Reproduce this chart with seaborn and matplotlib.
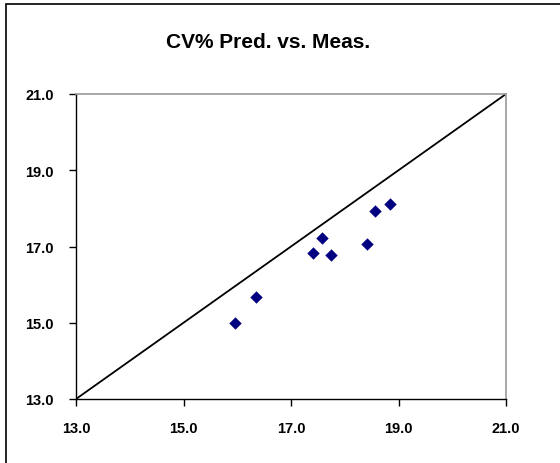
import matplotlib
matplotlib.use("Agg")
import matplotlib.pyplot as plt
import seaborn as sns
import pandas as pd
from matplotlib.patches import Rectangle

measured = [15.96, 16.35, 17.41, 17.58, 17.75, 18.42, 18.56, 18.84]
predicted = [15.00, 15.67, 16.82, 17.21, 16.77, 17.07, 17.93, 18.11]
ticks = [13.0, 15.0, 17.0, 19.0, 21.0]
tick_labels = ["13.0", "15.0", "17.0", "19.0", "21.0"]
identity = [13.0, 21.0]

sns.set_style("white")
plt.rcParams['font.family'] = ['Liberation Sans', 'DejaVu Sans']
plt.rcParams['text.color'] = 'black'
plt.rcParams['xtick.color'] = 'black'
plt.rcParams['ytick.color'] = 'black'

df = pd.DataFrame({"Meas": measured, "Pred": predicted})

fig = plt.figure(figsize=(5.6, 4.64), dpi=100)
ax = fig.add_axes([76/560, 64/464, (506-76)/560, (400-95)/464])

ax.plot(identity, identity, color="black", lw=1.3, zorder=2)
sns.scatterplot(data=df, x="Meas", y="Pred", marker="D", s=40, color="#000080",
                edgecolor="#000080", linewidth=0, ax=ax, zorder=3)

ax.set_xlim(13, 21)
ax.set_ylim(13, 21)
ax.set_xticks(ticks)
ax.set_xticklabels(tick_labels)
ax.set_yticks(ticks)
ax.set_yticklabels(tick_labels)
ax.set_xlabel("")
ax.set_ylabel("")
ax.tick_params(axis="both", direction="out", length=5, width=1, color="black",
               labelcolor="black", labelsize=10.5, pad=11, bottom=True, left=True)
for lab in ax.get_xticklabels() + ax.get_yticklabels():
    lab.set_fontweight("bold")

for side in ["left", "bottom"]:
    ax.spines[side].set_color("black")
    ax.spines[side].set_linewidth(1.0)
for side in ["top", "right"]:
    ax.spines[side].set_color("#999999")
    ax.spines[side].set_linewidth(1.2)
    ax.spines[side].set_visible(True)

fig.text(268/560, 1 - 42/464, "CV% Pred. vs. Meas.", ha="center", va="center",
         fontsize=15, fontweight="bold", color="black")

fig.patches.append(Rectangle((6/560, -0.05), 1.2, 1 - 5/464 + 0.05,
                             transform=fig.transFigure, fill=False,
                             edgecolor="black", linewidth=1.2))

fig.savefig("out.png", dpi=100)
